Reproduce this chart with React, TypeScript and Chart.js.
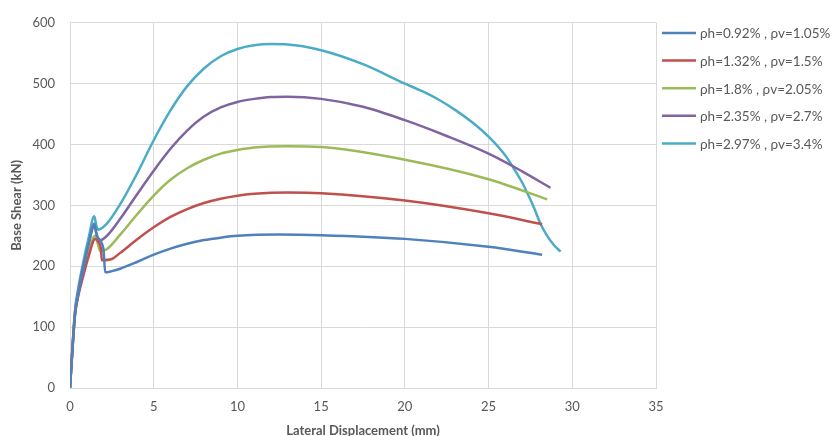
import React, { useEffect, useRef } from "react";
import { Chart, registerables } from "chart.js";

Chart.register(...registerables);

const seriesLabels = [
  "ρh=0.92% , ρv=1.05%",
  "ρh=1.32% , ρv=1.5%",
  "ρh=1.8% , ρv=2.05%",
  "ρh=2.35% , ρv=2.7%",
  "ρh=2.97% , ρv=3.4%",
];
const seriesColors = ["#4F81BD", "#C0504D", "#9BBB59", "#8064A2", "#4BACC6"];

const xBlue = [0, 0.15, 0.3, 0.5, 0.8, 1.1, 1.45, 1.6, 2.0, 2.1, 2.5, 3, 4, 5, 6, 7, 8, 9, 10, 12.5, 15, 20, 25, 28.2];
const yBlue = [0, 65, 120, 155, 195, 235, 270, 250, 228, 190, 192, 196, 207, 219, 229, 237, 243, 247, 250, 252, 251, 245, 232, 219];

const xRed = [0, 0.15, 0.3, 0.5, 0.8, 1.1, 1.5, 1.7, 1.85, 1.9, 2.5, 3, 4, 5, 6, 7, 8, 9, 10, 11, 13, 15, 20, 25, 28.2];
const yRed = [0, 65, 120, 152, 185, 215, 245, 240, 228, 210, 212, 222, 244, 264, 281, 294, 304, 311, 316, 319, 321, 320, 308, 287, 269];

const xGreen = [0, 0.15, 0.3, 0.5, 0.8, 1.1, 1.5, 1.65, 1.8, 2.2, 3, 4, 5, 6, 7, 8, 9, 10, 11, 13, 15, 20, 25, 28.5];
const yGreen = [0, 65, 122, 155, 190, 222, 250, 238, 225, 228, 252, 285, 316, 342, 361, 375, 385, 391, 395, 397, 396, 375, 343, 310];

const xPurple = [0, 0.15, 0.3, 0.5, 0.8, 1.1, 1.45, 1.6, 1.75, 2.2, 3, 4, 5, 6, 7, 8, 9, 10, 11, 12, 13, 15, 17.5, 20, 22.5, 25, 27, 28.7];
const yPurple = [0, 67, 125, 160, 200, 235, 266, 252, 242, 250, 278, 318, 357, 393, 423, 446, 461, 470, 475, 478, 478.5, 475, 462, 440, 414, 385, 356, 329];

const xCyan = [0, 0.15, 0.3, 0.5, 0.8, 1.1, 1.45, 1.58, 1.68, 2.2, 3, 4, 5, 6, 7, 8, 9, 10, 11, 12, 13, 15, 17.5, 20, 21, 22, 23, 24, 25, 26, 26.5, 27, 27.3, 27.7, 28.1, 28.5, 28.9, 29.3];
const yCyan = [0, 68, 128, 165, 208, 245, 282, 266, 260, 270, 302, 352, 407, 456, 496, 525, 545, 557, 563, 565, 564.5, 555, 532, 500, 488, 474, 457, 437, 413, 382, 361, 338, 321, 297, 270, 250, 235, 224];

const xTicks = [0, 5, 10, 15, 20, 25, 30, 35];
const yTicks = [0, 100, 200, 300, 400, 500, 600];

const xsAll = [xBlue, xRed, xGreen, xPurple, xCyan];
const ysAll = [yBlue, yRed, yGreen, yPurple, yCyan];

const FONT = "Lato, 'DejaVu Sans', sans-serif";

const legendPlugin = {
  id: "customLegend",
  afterDraw(chart: any) {
    const ctx = chart.ctx;
    ctx.save();
    const startX = 662;
    const startY = 33;
    const gap = 27.6;
    chart.data.datasets.forEach((ds: any, i: number) => {
      const y = startY + i * gap;
      ctx.strokeStyle = ds.borderColor;
      ctx.lineWidth = 2.5;
      ctx.beginPath();
      ctx.moveTo(startX, y);
      ctx.lineTo(startX + 34, y);
      ctx.stroke();
      ctx.fillStyle = "#595959";
      ctx.font = `13.5px ${FONT}`;
      ctx.textBaseline = "middle";
      ctx.textAlign = "left";
      ctx.fillText(ds.label, startX + 38, y + 1);
    });
    ctx.restore();
  },
};

export default function App() {
  const ref = useRef<HTMLCanvasElement | null>(null);
  useEffect(() => {
    document.body.style.margin = "0";
    const canvas = ref.current!;
    const datasets = seriesLabels.map((label, i) => ({
      label,
      data: xsAll[i].map((x, j) => ({ x, y: ysAll[i][j] })),
      borderColor: seriesColors[i],
      backgroundColor: seriesColors[i],
      borderWidth: 2.5,
      pointRadius: 0,
      fill: false,
      cubicInterpolationMode: "monotone" as const,
    }));
    const chart = new Chart(canvas, {
      type: "line",
      data: { datasets },
      options: {
        responsive: false,
        animation: false,
        maintainAspectRatio: false,
        layout: { padding: { left: 0, right: 180, top: 18, bottom: 0 } },
        plugins: {
          legend: { display: false },
          tooltip: { enabled: false },
        },
        scales: {
          x: {
            type: "linear",
            min: 0,
            max: 35,
            afterBuildTicks: (scale: any) => {
              scale.ticks = xTicks.map((v) => ({ value: v }));
            },
            afterFit: (scale: any) => {
              scale.height = 48;
            },
            grid: { color: "#d9d9d9", drawTicks: false, lineWidth: 1 },
            border: { color: "#d9d9d9" },
            ticks: { color: "#595959", font: { family: FONT, size: 13 }, padding: 11, maxRotation: 0 },
            title: {
              display: true,
              text: "Lateral Displacement (mm)",
              color: "#595959",
              font: { family: FONT, size: 13, weight: "bold" },
              padding: { top: 0, bottom: -3 },
            },
          },
          y: {
            type: "linear",
            min: 0,
            max: 600,
            afterBuildTicks: (scale: any) => {
              scale.ticks = yTicks.map((v) => ({ value: v }));
            },
            afterFit: (scale: any) => {
              scale.width = 70;
            },
            grid: { color: "#d9d9d9", drawTicks: false, lineWidth: 1 },
            border: { color: "#d9d9d9" },
            ticks: { color: "#595959", font: { family: FONT, size: 13 }, padding: 15 },
            title: {
              display: true,
              text: "Base Shear (kN)",
              color: "#595959",
              font: { family: FONT, size: 13, weight: "bold" },
              padding: { top: 9, bottom: 0 },
            },
          },
        },
      },
      plugins: [legendPlugin],
    });
    return () => chart.destroy();
  }, []);
  return <canvas ref={ref} width={836} height={436} style={{ display: "block" }} />;
}
